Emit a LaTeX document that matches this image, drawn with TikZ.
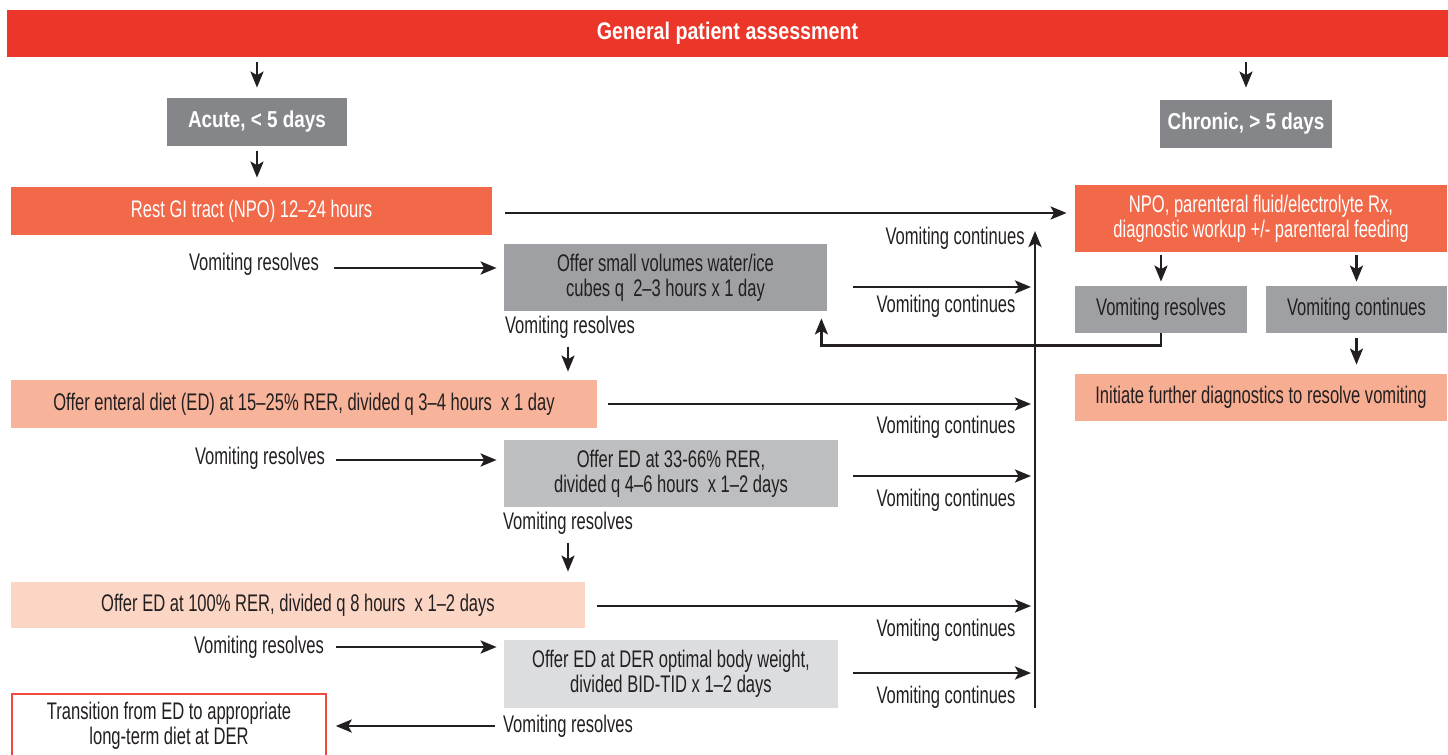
\documentclass[tikz,border=0pt]{standalone}
\usepackage{fontspec}
\setmainfont{Liberation Sans}[FakeStretch=0.69]
\newfontfamily\hdfont{Liberation Sans}[FakeStretch=0.82]
\usetikzlibrary{arrows.meta,calc}
\definecolor{hdred}{HTML}{EC3629}
\definecolor{coral}{HTML}{F2694A}
\definecolor{dgrey}{HTML}{858689}
\definecolor{mgrey}{HTML}{9FA0A3}
\definecolor{lgrey}{HTML}{BDBEC0}
\definecolor{xlgrey}{HTML}{DCDDDF}
\definecolor{salmon}{HTML}{F7AD91}
\definecolor{lsalmon}{HTML}{F8B49A}
\definecolor{pale}{HTML}{FCD6C5}
\definecolor{ink}{HTML}{231F20}
\definecolor{bordred}{HTML}{EF4B3F}
\begin{document}
\begin{tikzpicture}[x=0.5pt,y=-0.5pt,
  box/.style={inner sep=0pt, align=center, text=ink, font=\fontsize{12}{12.4}\selectfont},
  hbox/.style={box, text=white, font=\hdfont\bfseries\fontsize{11.5}{12.2}\selectfont},
  lbl/.style={inner sep=0pt, text=ink, font=\fontsize{12}{12.4}\selectfont},
  arr/.style={draw=ink, line width=1.3pt, -{Stealth[length=8pt,width=6.5pt,inset=1.8pt]}}]
\clip (0,0) rectangle (1448,755);
\fill[white] (0,0) rectangle (1448,755);

% boxes
\node[hbox, fill=hdred, minimum width=720.5pt, minimum height=23.5pt, font=\hdfont\bfseries\fontsize{12}{13}\selectfont] (hdr) at (727.5,33.5) {General patient assessment};
\node[hbox, fill=dgrey, minimum width=90pt, minimum height=24pt] (acute) at (257,122) {Acute, < 5 days};
\node[hbox, fill=dgrey, minimum width=86pt, minimum height=24pt] (chronic) at (1246,124) {Chronic, > 5 days};
\node[box, fill=coral, text=white, minimum width=240.5pt, minimum height=24pt] (rest) at (251.5,211) {Rest GI tract (NPO) 12–24 hours};
\node[box, fill=coral, text=white, minimum width=186pt, minimum height=33.5pt] (npo) at (1261,218.5) {NPO, parenteral fluid/electrolyte Rx,\\diagnostic workup +/- parenteral feeding};
\node[box, fill=mgrey, minimum width=161.5pt, minimum height=33.5pt] (small) at (665.5,277.5) {Offer small volumes water/ice\\cubes q\ \ 2–3 hours x 1 day};
\node[box, fill=mgrey, minimum width=86pt, minimum height=23.5pt] (rvres) at (1161,309.5) {Vomiting resolves};
\node[box, fill=mgrey, minimum width=90.5pt, minimum height=23.5pt] (rvcon) at (1356.5,309.5) {Vomiting continues};
\node[box, fill=salmon, minimum width=186pt, minimum height=23.5pt] (init) at (1261,397.5) {Initiate further diagnostics to resolve vomiting};
\node[box, fill=lsalmon, minimum width=293pt, minimum height=24pt] (ent) at (304,404) {Offer enteral diet (ED) at 15–25\% RER, divided q 3–4 hours\ \ x 1 day};
\node[box, fill=lgrey, minimum width=167pt, minimum height=33.5pt] (ed33) at (671,473.5) {Offer ED at 33-66\% RER,\\divided q 4–6 hours\ \ x 1–2 days};
\node[box, fill=pale, minimum width=287pt, minimum height=23pt] (ed100) at (298,605) {Offer ED at 100\% RER, divided q 8 hours\ \ x 1–2 days};
\node[box, fill=xlgrey, minimum width=167pt, minimum height=34pt] (edder) at (671,674) {Offer ED at DER optimal body weight,\\divided BID-TID x 1–2 days};
\node[box, draw=bordred, line width=0.75pt, fill=white, minimum width=157pt, minimum height=32pt] (trans) at (169,726) {Transition from ED to appropriate\\long-term diet at DER};

% labels
\node[lbl, anchor=east] (vc0) at (1025,238) {Vomiting continues};
\node[lbl] (vc1) at (946,306) {Vomiting continues};
\node[lbl] (vc2) at (946,427) {Vomiting continues};
\node[lbl] (vc3) at (946,500) {Vomiting continues};
\node[lbl] (vc4) at (946,630) {Vomiting continues};
\node[lbl] (vc5) at (946,697) {Vomiting continues};
\node[lbl] (vr1) at (254,264) {Vomiting resolves};
\node[lbl] (vr2) at (570,327) {Vomiting resolves};
\node[lbl] (vr3) at (260,458) {Vomiting resolves};
\node[lbl] (vr4) at (568,523) {Vomiting resolves};
\node[lbl] (vr5) at (259,647) {Vomiting resolves};
\node[lbl] (vr6) at (568,726) {Vomiting resolves};

% vertical collector
\coordinate (vbot) at (1035,708);
\coordinate (vtop) at (1035,231);
\draw[arr] (vbot) -- (vtop);

% arrows
\draw[arr, shorten <=2.5pt, shorten >=5pt] (acute.north |- hdr.south) -- (acute.north);
\draw[arr, shorten <=2.5pt, shorten >=6pt] (chronic.north |- hdr.south) -- (chronic.north);
\draw[arr, shorten <=2.5pt, shorten >=4.5pt] (acute.south) -- (acute.south |- rest.north);
\draw[arr] ($(rest.east)+(13,2)$) -- ($(rest.east -| npo.west)+(-8,2)$);
\draw[arr] ($(vr1.east)+(15,4)$) -- ($(vr1.east -| small.west)+(-7,4)$);
\draw[arr] ($(small.east)+(26,9.5)$) -- ($(small.east -| vbot)+(-4,9.5)$);
\draw[arr] ($(vr2.south)+(-2,8)$) -- ($(vr2.south |- ent.north)+(-2,-8)$);
\draw[arr] (rvres.south) -- ++(0,12) -| ([xshift=-3pt,yshift=-3.5pt]small.south east);
\draw[arr, shorten <=1.5pt, shorten >=2pt] (rvres.north |- npo.south) -- (rvres.north);
\draw[arr, shorten <=1.5pt, shorten >=2pt] (rvcon.north |- npo.south) -- (rvcon.north);
\draw[arr, shorten <=2.5pt, shorten >=4.5pt] (rvcon.south) -- (rvcon.south |- init.north);
\draw[arr] ($(ent.east)+(11,0)$) -- ($(ent.east -| vbot)+(-4,0)$);
\draw[arr] ($(vr3.east)+(11,2)$) -- ($(vr3.east -| ed33.west)+(-7,2)$);
\draw[arr] ($(ed33.east)+(15,2.5)$) -- ($(ed33.east -| vbot)+(-4,2.5)$);
\draw[arr] ($(vr4.south)+(0,8)$) -- ($(vr4.south |- ed100.north)+(0,-10)$);
\draw[arr] ($(ed100.east)+(12,1)$) -- ($(ed100.east -| vbot)+(-4,1)$);
\draw[arr] ($(vr5.east)+(12,0)$) -- ($(vr5.east -| edder.west)+(-7,0)$);
\draw[arr] ($(edder.east)+(15,-1)$) -- ($(edder.east -| vbot)+(-4,-1)$);
\draw[arr] ($(vr6.west)+(-8,0)$) -- ($(vr6.west -| trans.east)+(9,0)$);
\end{tikzpicture}
\end{document}
